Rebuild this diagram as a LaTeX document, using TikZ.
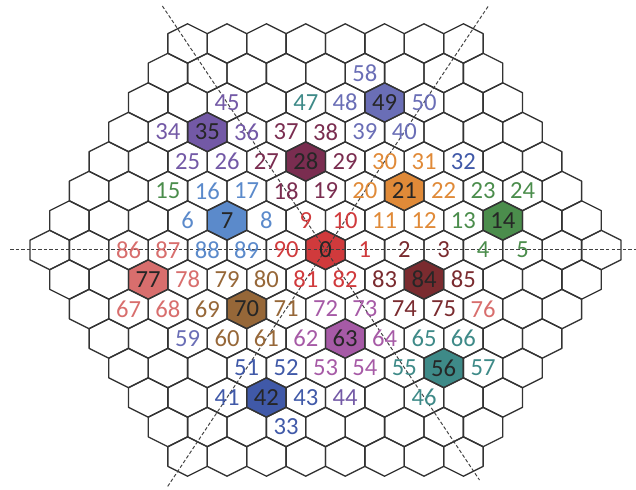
\documentclass[tikz,border=0pt]{standalone}
\usepackage{fontspec}
\setmainfont{Carlito}
\usepackage{tikz}

\definecolor{cred}{HTML}{D03A3C}
\definecolor{cblue}{HTML}{5B8ACB}
\definecolor{cgreen}{HTML}{4B8D4C}
\definecolor{corange}{HTML}{E08A38}
\definecolor{cplum}{HTML}{7A2D50}
\definecolor{cpurple}{HTML}{7359A6}
\definecolor{cnavy}{HTML}{4059A8}
\definecolor{cslate}{HTML}{6A6EB6}
\definecolor{cteal}{HTML}{3E8A88}
\definecolor{cmagenta}{HTML}{A65AA6}
\definecolor{cbrown}{HTML}{966738}
\definecolor{csalmon}{HTML}{D86E6D}
\definecolor{cwine}{HTML}{7A2B2F}
\definecolor{cdark}{HTML}{262626}

\begin{document}
\begin{tikzpicture}[x=0.02cm, y=-0.02cm,
    hexfill/.style={line width=0pt},
    hexcell/.style={draw=black!80, line width=0.75pt, line join=round},
    axis/.style={draw=black!75, line width=0.55pt, dash pattern=on 2pt off 1.2pt},
    num/.style={font=\fontsize{14}{16}\selectfont, inner sep=0pt}
]
\useasboundingbox (0,0) rectangle (636,490);

\foreach \r/\k/\c in {0/0/cred, -1/-5/cblue, -1/9/cgreen, -2/4/corange, -3/-1/cplum, -4/-6/cpurple, 5/-3/cnavy,
    -5/3/cslate, 4/6/cteal, 3/1/cmagenta, 2/-4/cbrown, 1/-9/csalmon, 1/5/cwine}
  \fill[\c, shift={({325.5+\k*19.7},{250+\r*29.5})}] (0,-19.7) -- (19.7,-9.85) -- (19.7,9.85) -- (0,19.7) -- (-19.7,9.85) -- (-19.7,-9.85) -- cycle;

\foreach \r in {-7,...,7}{
  \pgfmathtruncatemacro{\kmax}{14-abs(\r)}
  \pgfmathtruncatemacro{\kmin}{-\kmax}
  \pgfmathtruncatemacro{\knext}{\kmin+2}
  \foreach \k in {\kmin,\knext,...,\kmax}
    \draw[hexcell, shift={({325.5+\k*19.7},{250+\r*29.5})}] (0,-19.7) -- (19.7,-9.85) -- (19.7,9.85) -- (0,19.7) -- (-19.7,9.85) -- (-19.7,-9.85) -- cycle;
}

\coordinate (hL) at (10,249.3);
\coordinate (hR) at (636,249.3);
\coordinate (dTL) at (162.4,6);
\coordinate (dBR) at (479.5,480);
\coordinate (dTR) at (488,6.5);
\coordinate (dBL) at (166.6,488);
\draw[axis] (hL) -- (hR);
\draw[axis] (dTL) -- (dBR);
\draw[axis] (dTR) -- (dBL);

\foreach \r/\k/\t/\c in {
    0/-10/86/csalmon, 0/-8/87/csalmon, 0/-6/88/cblue, 0/-4/89/cblue, 0/-2/90/cred, 0/0/0/cdark, 0/2/1/cred,
    0/4/2/cwine, 0/6/3/cwine, 0/8/4/cgreen, 0/10/5/cgreen,
    -1/-7/6/cblue, -1/-5/7/cdark, -1/-3/8/cblue, -1/-1/9/cred, -1/1/10/cred, -1/3/11/corange, -1/5/12/corange,
    -1/7/13/cgreen, -1/9/14/cdark,
    -2/-8/15/cgreen, -2/-6/16/cblue, -2/-4/17/cblue, -2/-2/18/cplum, -2/0/19/cplum, -2/2/20/corange,
    -2/4/21/cdark, -2/6/22/corange, -2/8/23/cgreen, -2/10/24/cgreen,
    -3/-7/25/cpurple, -3/-5/26/cpurple, -3/-3/27/cplum, -3/-1/28/cdark, -3/1/29/cplum, -3/3/30/corange,
    -3/5/31/corange, -3/7/32/cnavy,
    -4/-8/34/cpurple, -4/-6/35/cdark, -4/-4/36/cpurple, -4/-2/37/cplum, -4/0/38/cplum, -4/2/39/cslate, -4/4/40/cslate,
    -5/-5/45/cpurple, -5/-1/47/cteal, -5/1/48/cslate, -5/3/49/cdark, -5/5/50/cslate,
    -6/2/58/cslate,
    1/-9/77/cdark, 1/-7/78/csalmon, 1/-5/79/cbrown, 1/-3/80/cbrown, 1/-1/81/cred, 1/1/82/cred, 1/3/83/cwine,
    1/5/84/cdark, 1/7/85/cwine,
    2/-10/67/csalmon, 2/-8/68/csalmon, 2/-6/69/cbrown, 2/-4/70/cdark, 2/-2/71/cbrown, 2/0/72/cmagenta,
    2/2/73/cmagenta, 2/4/74/cwine, 2/6/75/cwine, 2/8/76/csalmon,
    3/-7/59/cslate, 3/-5/60/cbrown, 3/-3/61/cbrown, 3/-1/62/cmagenta, 3/1/63/cdark, 3/3/64/cmagenta,
    3/5/65/cteal, 3/7/66/cteal,
    4/-4/51/cnavy, 4/-2/52/cnavy, 4/0/53/cmagenta, 4/2/54/cmagenta, 4/4/55/cteal, 4/6/56/cdark, 4/8/57/cteal,
    5/-5/41/cnavy, 5/-3/42/cdark, 5/-1/43/cnavy, 5/1/44/cpurple, 5/5/46/cteal,
    6/-2/33/cnavy}
  \node[num, text=\c] (n\t) at ({325.5+\k*19.7},{250+\r*29.5}) {\t};
\end{tikzpicture}
\end{document}
